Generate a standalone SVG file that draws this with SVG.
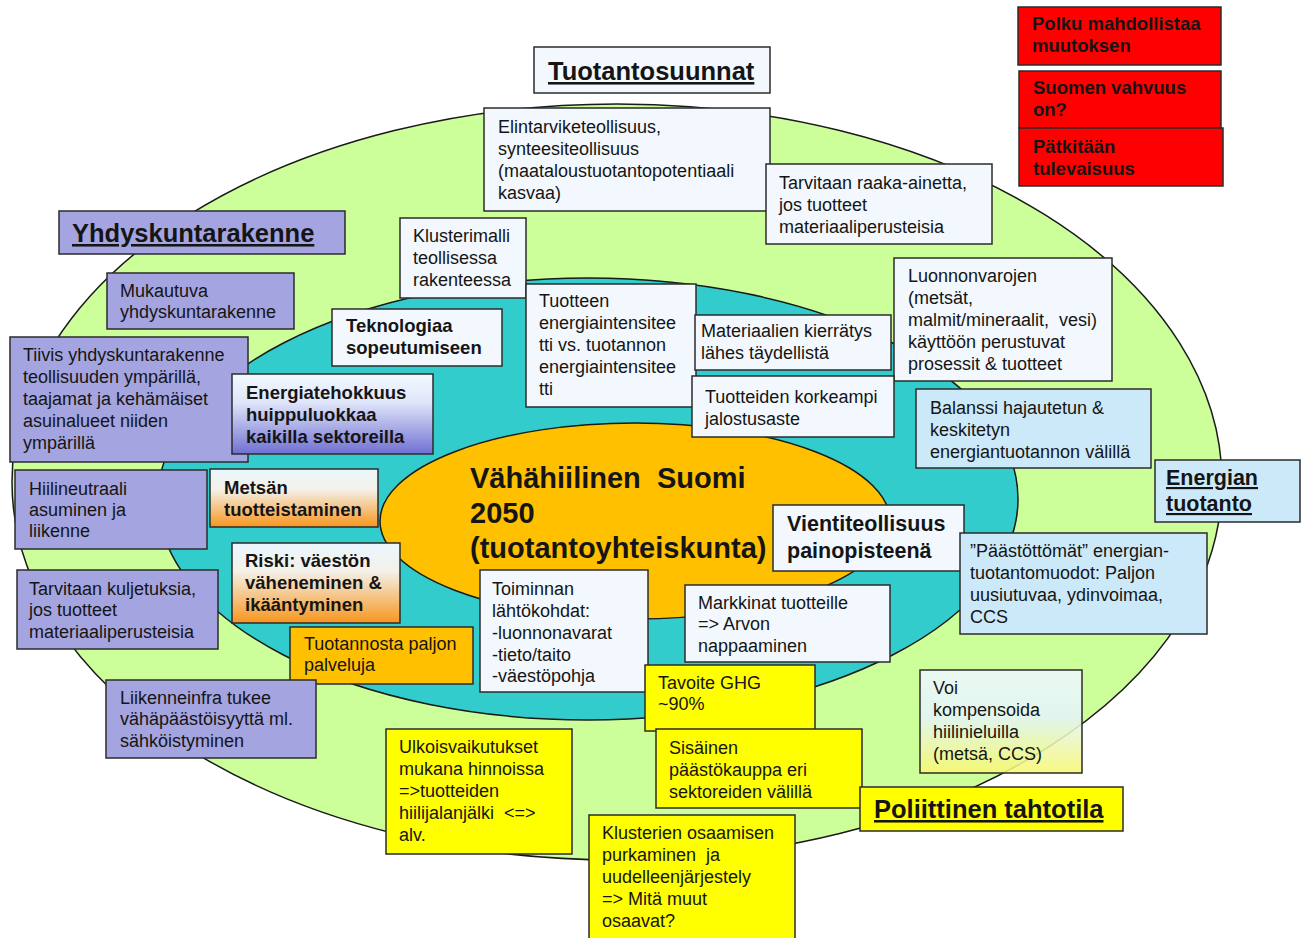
<svg xmlns="http://www.w3.org/2000/svg" width="1308" height="938" viewBox="0 0 1308 938">
<defs>
<linearGradient id="gPurple" x1="0" y1="0" x2="0" y2="1"><stop offset="0" stop-color="#f2f9fe"/><stop offset="0.35" stop-color="#e0e6fa"/><stop offset="1" stop-color="#7070d2"/></linearGradient>
<linearGradient id="gOrange" x1="0" y1="0" x2="0" y2="1"><stop offset="0" stop-color="#eaf6fe"/><stop offset="0.35" stop-color="#f4f1ea"/><stop offset="1" stop-color="#f7961e"/></linearGradient>
<linearGradient id="gYellow" x1="0" y1="0" x2="0" y2="1"><stop offset="0" stop-color="#eef8fe"/><stop offset="0.45" stop-color="#e4f4fa"/><stop offset="1" stop-color="#f8f870"/></linearGradient>
<style>
.b{stroke:#2b2b2b;stroke-width:1.5}
.w{fill:#f2f8fd}
.p{fill:#a4a4e0}
.lb{fill:#cce9f9}
.y{fill:#ffff00}
.o{fill:#ffc000}
.r{fill:#ff0000}
text{font-family:"Liberation Sans",Arial,sans-serif;fill:#151515;font-size:18px}
.bd{font-weight:bold;font-size:18.5px}
.h{font-weight:bold;text-decoration:underline;font-size:25.5px}
.m{font-weight:bold;font-size:21.5px}
.pre{white-space:pre}
</style>
</defs>
<g id="rings">
<ellipse cx="617" cy="482" rx="605" ry="378" fill="#ccff99" stroke="#1a1a1a" stroke-width="1.5"/>
<ellipse cx="588" cy="499" rx="430" ry="221" fill="#33cccc" stroke="#1a1a1a" stroke-width="1.5"/>
<ellipse cx="635" cy="521" rx="255" ry="98" fill="#ffc000" stroke="#1a1a1a" stroke-width="1.5"/>
</g>
<g id="connectors"/>
<g id="center">
<text class="pre" xml:space="preserve" x="470" y="488" style="font-weight:bold;font-size:29px">Vähähiilinen  Suomi</text>
<text x="470" y="523" style="font-weight:bold;font-size:29px">2050</text>
<text x="470" y="558" style="font-weight:bold;font-size:29px">(tuotantoyhteiskunta)</text>
</g>
<g id="n-tuotantosuunnat"><rect class="b w" x="534" y="47" width="236" height="46"/><text class="h" x="548" y="80">Tuotantosuunnat</text></g>
<g id="n-polku"><rect class="b r" x="1018" y="7" width="203" height="58"/><text class="bd" x="1032" y="30">Polku mahdollistaa</text><text class="bd" x="1032" y="52">muutoksen</text></g>
<g id="n-suomen"><rect class="b r" x="1019" y="71" width="202" height="57"/><text class="bd" x="1033" y="94">Suomen vahvuus</text><text class="bd" x="1033" y="116">on?</text></g>
<g id="n-patkitaan"><rect class="b r" x="1019" y="128" width="204" height="58"/><text class="bd" x="1033" y="153">Pätkitään</text><text class="bd" x="1033" y="175">tulevaisuus</text></g>
<g id="n-elintarvike"><rect class="b w" x="484" y="108" width="286" height="103"/><text x="498" y="133">Elintarviketeollisuus,</text><text x="498" y="155">synteesiteollisuus</text><text x="498" y="177">(maataloustuotantopotentiaali</text><text x="498" y="199">kasvaa)</text></g>
<g id="n-raaka"><rect class="b w" x="766" y="164" width="226" height="80"/><text x="779" y="189">Tarvitaan raaka-ainetta,</text><text x="779" y="211">jos tuotteet</text><text x="779" y="233">materiaaliperusteisia</text></g>
<g id="n-yhdyskunta"><rect class="b p" x="59" y="211" width="286" height="43"/><text class="h" x="72" y="242">Yhdyskuntarakenne</text></g>
<g id="n-klusterimalli"><rect class="b w" x="400" y="218" width="126" height="80"/><text x="413" y="242">Klusterimalli</text><text x="413" y="264">teollisessa</text><text x="413" y="286">rakenteessa</text></g>
<g id="n-mukautuva"><rect class="b p" x="107" y="273" width="187" height="56"/><text x="120" y="297">Mukautuva</text><text x="120" y="318">yhdyskuntarakenne</text></g>
<g id="n-luonnonvarat"><rect class="b w" x="894" y="258" width="218" height="123"/><text x="908" y="282">Luonnonvarojen</text><text x="908" y="304">(metsät,</text><text class="pre" xml:space="preserve" x="908" y="326">malmit/mineraalit,  vesi)</text><text x="908" y="348">käyttöön perustuvat</text><text x="908" y="370">prosessit &amp; tuotteet</text></g>
<g id="n-teknologia"><rect class="b w" x="332" y="309" width="170" height="57"/><text class="bd" x="346" y="332">Teknologiaa</text><text class="bd" x="346" y="354">sopeutumiseen</text></g>
<g id="n-tuotteen"><rect class="b w" x="526" y="284" width="170" height="123"/><text x="539" y="307">Tuotteen</text><text x="539" y="329">energiaintensitee</text><text x="539" y="351">tti vs. tuotannon</text><text x="539" y="373">energiaintensitee</text><text x="539" y="395">tti</text></g>
<g id="n-materiaalien"><rect class="b w" x="695" y="315" width="196" height="55"/><text x="701" y="337">Materiaalien kierrätys</text><text x="701" y="359">lähes täydellistä</text></g>
<g id="n-korkeampi"><rect class="b w" x="692" y="376" width="202" height="61"/><text x="705" y="403">Tuotteiden korkeampi</text><text x="705" y="425">jalostusaste</text></g>
<g id="n-tiivis"><rect class="b p" x="10" y="337" width="238" height="125"/><text x="23" y="361">Tiivis yhdyskuntarakenne</text><text x="23" y="383">teollisuuden ympärillä,</text><text x="23" y="405">taajamat ja kehämäiset</text><text x="23" y="427">asuinalueet niiden</text><text x="23" y="449">ympärillä</text></g>
<g id="n-energiatehokkuus"><rect class="b" fill="url(#gPurple)" x="232" y="374" width="201" height="80"/><text class="bd" x="246" y="399">Energiatehokkuus</text><text class="bd" x="246" y="421">huippuluokkaa</text><text class="bd" x="246" y="443">kaikilla sektoreilla</text></g>
<g id="n-balanssi"><rect class="b lb" x="916" y="389" width="235" height="79"/><text x="930" y="414">Balanssi hajautetun &amp;</text><text x="930" y="436">keskitetyn</text><text x="930" y="458">energiantuotannon välillä</text></g>
<g id="n-energian"><rect class="b lb" x="1155" y="460" width="145" height="62"/><text class="h" x="1166" y="485" style="font-size:21.5px">Energian</text><text class="h" x="1166" y="511" style="font-size:21.5px">tuotanto</text></g>
<g id="n-hiilineutraali"><rect class="b p" x="15" y="470" width="192" height="79"/><text x="29" y="495">Hiilineutraali</text><text x="29" y="516">asuminen ja</text><text x="29" y="537">liikenne</text></g>
<g id="n-metsan"><rect class="b" fill="url(#gOrange)" x="210" y="469" width="168" height="58"/><text class="bd" x="224" y="494">Metsän</text><text class="bd" x="224" y="516">tuotteistaminen</text></g>
<g id="n-vienti"><rect class="b w" x="773" y="505" width="191" height="66"/><text class="m" x="787" y="531">Vientiteollisuus</text><text class="m" x="787" y="558">painopisteenä</text></g>
<g id="n-paastottomat"><rect class="b lb" x="960" y="533" width="247" height="101"/><text x="970" y="557">”Päästöttömät” energian-</text><text x="970" y="579">tuotantomuodot: Paljon</text><text x="970" y="601">uusiutuvaa, ydinvoimaa,</text><text x="970" y="623">CCS</text></g>
<g id="n-riski"><rect class="b" fill="url(#gOrange)" x="232" y="543" width="168" height="80"/><text class="bd" x="245" y="567">Riski: väestön</text><text class="bd" x="245" y="589">väheneminen &amp;</text><text class="bd" x="245" y="611">ikääntyminen</text></g>
<g id="n-toiminnan"><rect class="b w" x="480" y="570" width="168" height="122"/><text x="492" y="595">Toiminnan</text><text x="492" y="617">lähtökohdat:</text><text x="492" y="639">-luonnonavarat</text><text x="492" y="661">-tieto/taito</text><text x="492" y="682">-väestöpohja</text></g>
<g id="n-markkinat"><rect class="b w" x="685" y="585" width="205" height="77"/><text x="698" y="609">Markkinat tuotteille</text><text x="698" y="630">=&gt; Arvon</text><text x="698" y="652">nappaaminen</text></g>
<g id="n-kuljetuksia"><rect class="b p" x="17" y="570" width="201" height="79"/><text x="29" y="595">Tarvitaan kuljetuksia,</text><text x="29" y="616">jos tuotteet</text><text x="29" y="638">materiaaliperusteisia</text></g>
<g id="n-palveluja"><rect class="b o" x="290" y="627" width="183" height="57"/><text x="304" y="650">Tuotannosta paljon</text><text x="304" y="671">palveluja</text></g>
<g id="n-tavoite"><rect class="b y" x="645" y="665" width="170" height="66"/><text x="658" y="689">Tavoite GHG</text><text x="658" y="710">~90%</text></g>
<g id="n-kompensoida"><rect class="b" fill="url(#gYellow)" fill-opacity="0.88" x="920" y="670" width="162" height="103"/><text x="933" y="694">Voi</text><text x="933" y="716">kompensoida</text><text x="933" y="738">hiilinieluilla</text><text x="933" y="760">(metsä, CCS)</text></g>
<g id="n-liikenneinfra"><rect class="b p" x="106" y="680" width="210" height="78"/><text x="120" y="704">Liikenneinfra tukee</text><text x="120" y="725">vähäpäästöisyyttä ml.</text><text x="120" y="747">sähköistyminen</text></g>
<g id="n-ulkoisvaikutukset"><rect class="b y" x="386" y="729" width="186" height="125"/><text x="399" y="753">Ulkoisvaikutukset</text><text x="399" y="775">mukana hinnoissa</text><text x="399" y="797">=&gt;tuotteiden</text><text class="pre" xml:space="preserve" x="399" y="819">hiilijalanjälki  &lt;=&gt;</text><text x="399" y="841">alv.</text></g>
<g id="n-sisainen"><rect class="b y" x="656" y="729" width="206" height="79"/><text x="669" y="754">Sisäinen</text><text x="669" y="776">päästökauppa eri</text><text x="669" y="798">sektoreiden välillä</text></g>
<g id="n-poliittinen"><rect class="b y" x="860" y="787" width="263" height="44"/><text class="h" x="874" y="818">Poliittinen tahtotila</text></g>
<g id="n-klusterien"><rect class="b y" x="589" y="815" width="206" height="130"/><text x="602" y="839">Klusterien osaamisen</text><text class="pre" xml:space="preserve" x="602" y="861">purkaminen  ja</text><text x="602" y="883">uudelleenjärjestely</text><text x="602" y="905">=&gt; Mitä muut</text><text x="602" y="927">osaavat?</text></g>
</svg>
